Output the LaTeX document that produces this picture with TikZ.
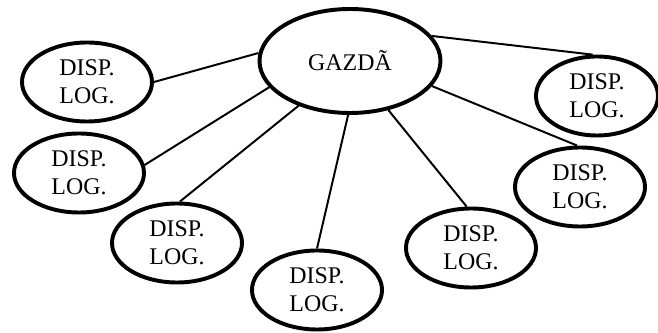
\documentclass[tikz,border=0pt]{standalone}
\usepackage{fontspec}
\setmainfont{Liberation Serif}
\usetikzlibrary{shapes.geometric}
\begin{document}
\begin{tikzpicture}[
    host/.style={ellipse,draw,line width=2.8pt,inner sep=0pt,minimum width=4.525cm,minimum height=2.6cm,font=\fontsize{17}{20}\selectfont},
    device/.style={ellipse,draw,line width=2.8pt,inner sep=0pt,minimum width=3.25cm,minimum height=1.975cm,align=center,font=\fontsize{17}{20}\selectfont},
    link/.style={line width=1.4pt}]
                    \useasboundingbox (0,0) rectangle (16.45,-8.325);
                    \node[host] (gazda) at (8.75,-1.525) {GAZDÃ};
                    \node[device] (disp1) at (2.175,-2.05) {DISP.\\LOG.};
                    \node[device] (disp2) at (1.975,-4.325) {DISP.\\LOG.};
                    \node[device] (disp3) at (4.425,-6.075) {DISP.\\LOG.};
                    \node[device] (disp4) at (7.925,-7.25) {DISP.\\LOG.};
                    \node[device] (disp5) at (11.775,-6.2) {DISP.\\LOG.};
                    \node[device] (disp6) at (14.5,-4.675) {DISP.\\LOG.};
                    \node[device,minimum width=3.05cm] (disp7) at (14.925,-2.4) {DISP.\\LOG.};

                    \draw[link] (gazda.175)--(disp1.east);
                    \draw[link] (gazda.198)--(disp2.7);
                    \draw[link] (gazda.221)--(disp3.86);
                    \draw[link] (gazda.268)--(disp4.north);
                    \draw[link] (gazda.308)--(disp5.96);
                    \draw[link] (gazda.343)--(disp6.94);
                    \draw[link] (gazda.17)--(disp7.96);
                \end{tikzpicture}
\end{document}
